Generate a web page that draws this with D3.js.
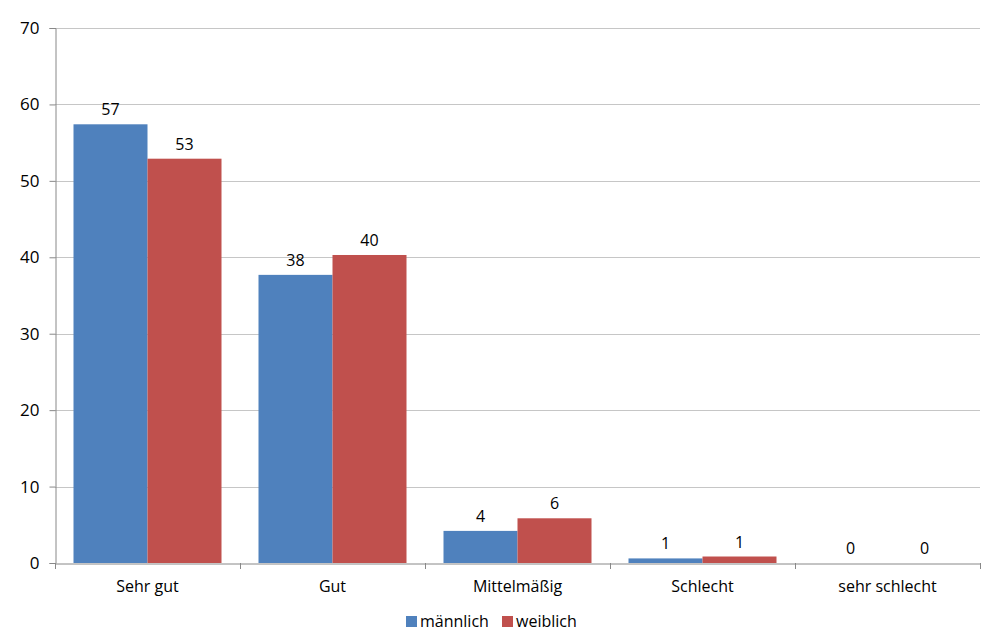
<!DOCTYPE html>
<html><head><meta charset="utf-8">
<script src="https://cdn.jsdelivr.net/npm/d3@7"></script>
<style>body{margin:0;background:#fff}svg{display:block}text{font-family:"Open Sans","Liberation Sans",sans-serif;fill:#000}</style>
</head><body>
<svg id="c" width="981" height="637"></svg>
<script>
const categories = ["Sehr gut","Gut","Mittelmäßig","Schlecht","sehr schlecht"];
const seriesNames = ["männlich","weiblich"];
const maleValues = [57.4, 37.7, 4.2, 0.6, 0];
const femaleValues = [52.9, 40.3, 5.85, 0.85, 0];
const maleLabels = ["57","38","4","1","0"];
const femaleLabels = ["53","40","6","1","0"];
const yTicks = [0,10,20,30,40,50,60,70];
const colors = ["#4F81BD","#C0504D"];

const svg = d3.select("#c");
const L = 55, R = 980, T = 28, B = 563;
const y = d3.scaleLinear().domain([0,70]).range([B,T]);
const x0 = d3.scaleBand().domain(categories).range([L,R]).paddingInner(0.2).paddingOuter(0.1);
const x1 = d3.scaleBand().domain(seriesNames).range([0,x0.bandwidth()]).padding(0);
const FF = "'Open Sans','Liberation Sans',sans-serif";

// gridlines
svg.append("g").selectAll("line").data(yTicks.filter(d=>d>0)).join("line")
  .attr("x1",L).attr("x2",R).attr("y1",d=>Math.round(y(d))+0.5).attr("y2",d=>Math.round(y(d))+0.5)
  .attr("stroke","#c6c6c6").attr("stroke-width",1);

// y axis
const yAxis = svg.append("g").attr("transform",`translate(${L+0.5},0)`)
  .call(d3.axisLeft(y).tickValues(yTicks).tickSize(6).tickPadding(10).tickFormat(d3.format("d")));
yAxis.select(".domain").attr("stroke","#888");
yAxis.selectAll(".tick line").attr("stroke","#888");
yAxis.selectAll(".tick text").attr("font-size",17).attr("font-family",FF).attr("fill","#000");

// bars
const data = categories.map((c,i)=>({c, vals:[
  {s:seriesNames[0], v:maleValues[i], l:maleLabels[i], col:colors[0]},
  {s:seriesNames[1], v:femaleValues[i], l:femaleLabels[i], col:colors[1]}]}));
const g = svg.append("g").selectAll("g").data(data).join("g")
  .attr("transform",d=>`translate(${x0(d.c)},0)`);
g.selectAll("rect").data(d=>d.vals).join("rect")
  .attr("x",d=>x1(d.s)).attr("width",x1.bandwidth())
  .attr("y",d=>y(d.v)).attr("height",d=>B-y(d.v)).attr("fill",d=>d.col);
g.selectAll("text").data(d=>d.vals).join("text")
  .attr("x",d=>x1(d.s)+x1.bandwidth()/2).attr("y",d=>y(d.v)-9)
  .attr("text-anchor","middle").attr("font-size",16).text(d=>d.l);

// x axis
const xAxis = svg.append("g").attr("transform",`translate(0,${B+0.5})`)
  .call(d3.axisBottom(x0).tickSize(0).tickPadding(17));
xAxis.select(".domain").attr("stroke","#888");
xAxis.selectAll(".tick text").attr("font-size",16).attr("font-family",FF).attr("fill","#000");
// boundary ticks
const bounds = categories.map(c=>x0(c)-x0.step()*x0.paddingInner()/2).concat([R]);
svg.append("g").selectAll("line").data(bounds).join("line")
  .attr("x1",d=>Math.round(d)+0.5).attr("x2",d=>Math.round(d)+0.5).attr("y1",B).attr("y2",B+6)
  .attr("stroke","#888");

// legend
const lg = svg.append("g").attr("transform","translate(406,621)");
const items = [{n:seriesNames[0],c:colors[0],x:0},{n:seriesNames[1],c:colors[1],x:96}];
items.forEach(it=>{
  lg.append("rect").attr("x",it.x).attr("y",-5).attr("width",11).attr("height",11).attr("fill",it.c);
  lg.append("text").attr("x",it.x+14).attr("y",6).attr("font-size",16).text(it.n);
});
</script>
</body></html>
